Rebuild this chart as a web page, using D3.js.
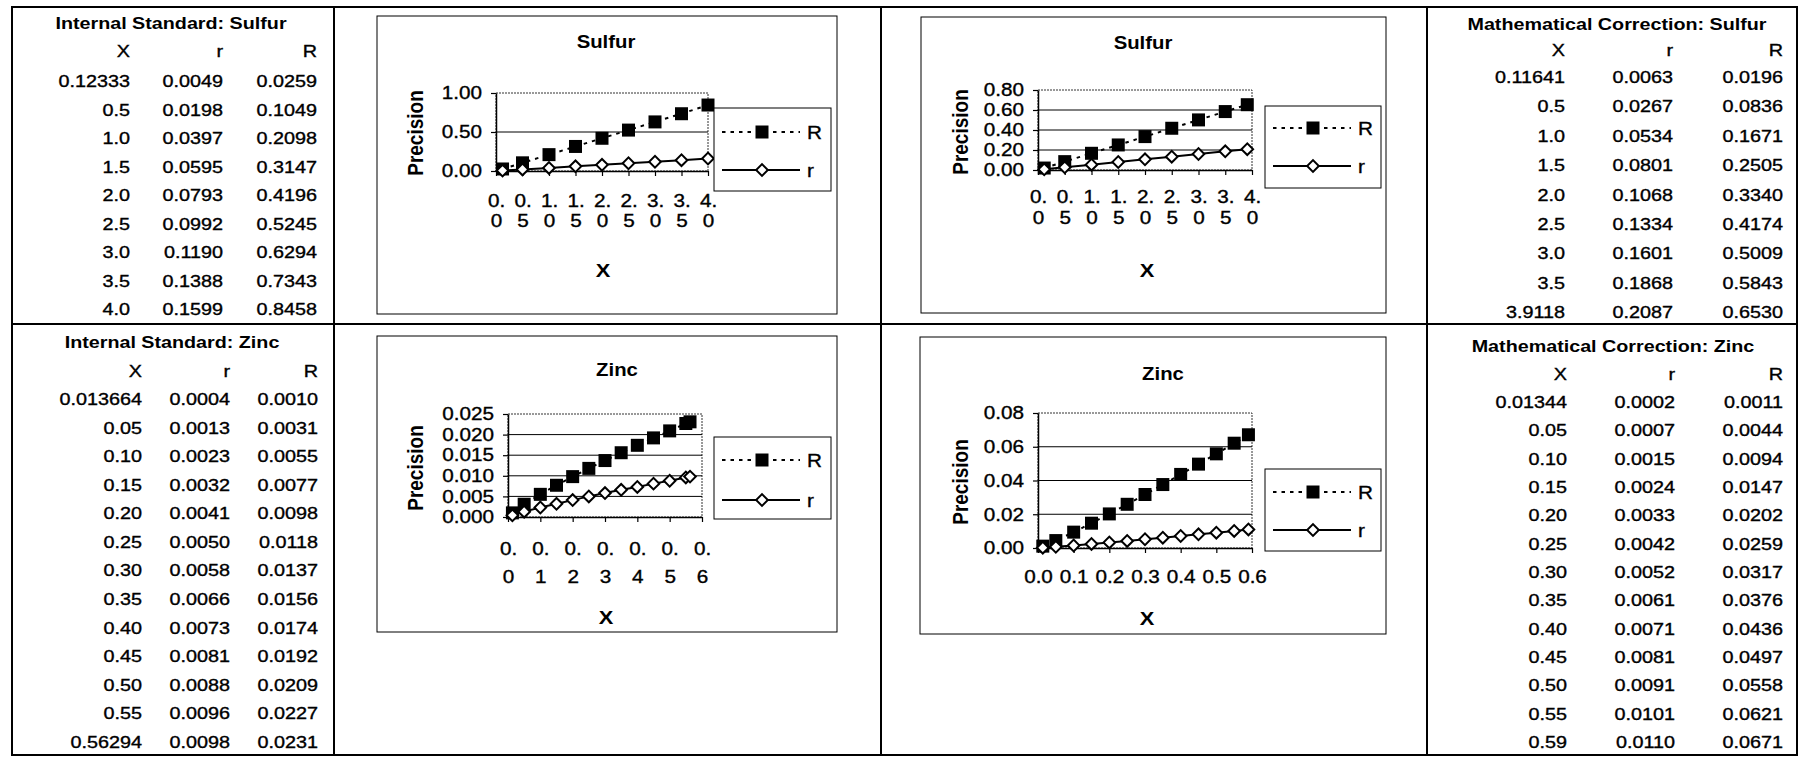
<!DOCTYPE html>
<html>
<head>
<meta charset="utf-8">
<script src="https://cdn.jsdelivr.net/npm/d3@7"></script>
<style>
  body { margin: 0; background: #fff; }
  svg { font-family: "Liberation Sans", Arial, sans-serif; }
</style>
</head>
<body>
<div id="chart"></div>
<script>
// ---- data ----
const isSulfurX = ["0.12333", "0.5", "1.0", "1.5", "2.0", "2.5", "3.0", "3.5", "4.0"];
const isSulfur_r = [0.0049, 0.0198, 0.0397, 0.0595, 0.0793, 0.0992, 0.119, 0.1388, 0.1599];
const isSulfur_R = [0.0259, 0.1049, 0.2098, 0.3147, 0.4196, 0.5245, 0.6294, 0.7343, 0.8458];

const mcSulfurX = ["0.11641", "0.5", "1.0", "1.5", "2.0", "2.5", "3.0", "3.5", "3.9118"];
const mcSulfur_r = [0.0063, 0.0267, 0.0534, 0.0801, 0.1068, 0.1334, 0.1601, 0.1868, 0.2087];
const mcSulfur_R = [0.0196, 0.0836, 0.1671, 0.2505, 0.334, 0.4174, 0.5009, 0.5843, 0.653];

const isZincX = ["0.013664", "0.05", "0.10", "0.15", "0.20", "0.25", "0.30", "0.35", "0.40", "0.45", "0.50", "0.55", "0.56294"];
const isZinc_r = [0.0004, 0.0013, 0.0023, 0.0032, 0.0041, 0.005, 0.0058, 0.0066, 0.0073, 0.0081, 0.0088, 0.0096, 0.0098];
const isZinc_R = [0.001, 0.0031, 0.0055, 0.0077, 0.0098, 0.0118, 0.0137, 0.0156, 0.0174, 0.0192, 0.0209, 0.0227, 0.0231];

const mcZincX = ["0.01344", "0.05", "0.10", "0.15", "0.20", "0.25", "0.30", "0.35", "0.40", "0.45", "0.50", "0.55", "0.59"];
const mcZinc_r = [0.0002, 0.0007, 0.0015, 0.0024, 0.0033, 0.0042, 0.0052, 0.0061, 0.0071, 0.0081, 0.0091, 0.0101, 0.011];
const mcZinc_R = [0.0011, 0.0044, 0.0094, 0.0147, 0.0202, 0.0259, 0.0317, 0.0376, 0.0436, 0.0497, 0.0558, 0.0621, 0.0671];

// axis ticks
const sulfurXTicks = [0, 0.5, 1, 1.5, 2, 2.5, 3, 3.5, 4];
const zincXTicks = [0, 0.1, 0.2, 0.3, 0.4, 0.5, 0.6];
const isSulfurYTicks = [0, 0.5, 1];
const mcSulfurYTicks = [0, 0.2, 0.4, 0.6, 0.8];
const isZincYTicks = [0, 0.005, 0.01, 0.015, 0.02, 0.025];
const mcZincYTicks = [0, 0.02, 0.04, 0.06, 0.08];

const W = 1808, H = 757;
const SX = 1.15; // the scan is a bit wide, so text gets stretched sideways
const INK = 0.35; // scanned text looks heavier than clean vector text

const svg = d3
  .select("#chart")
  .append("svg")
  .attr("width", W)
  .attr("height", H);

svg.append("rect").attr("width", W).attr("height", H).attr("fill", "#fff");

const label = (g, x, y, str, o = {}) =>
  g
    .append("text")
    .attr(
      "transform",
      `translate(${x},${y}) scale(${o.sx || SX},1)` + (o.rot ? " rotate(-90)" : "")
    )
    .attr("text-anchor", o.anchor || "middle")
    .attr("dominant-baseline", o.rot ? "central" : null)
    .attr("font-size", o.size || 18)
    .attr("font-weight", o.bold ? "bold" : null)
    .attr("stroke", o.bold ? null : "#000")
    .attr("stroke-width", o.bold ? null : INK)
    .text(str);

// ---- sheet grid ----
const grid = svg.append("g").attr("stroke", "#000").attr("stroke-width", 2).attr("fill", "none");
grid.append("rect").attr("x", 12).attr("y", 7).attr("width", 1797 - 12).attr("height", 755 - 7);
[334, 881, 1427].forEach((x) =>
  grid.append("line").attr("x1", x).attr("x2", x).attr("y1", 7).attr("y2", 755)
);
grid.append("line").attr("x1", 12).attr("x2", 1797).attr("y1", 324).attr("y2", 324);

// ---- tables ----
const fmt4 = d3.format(".4f");
const tables = [
  { title: "Internal Standard: Sulfur", x: isSulfurX, r: isSulfur_r, R: isSulfur_R,
    titleX: 171, titleY: 29, headY: 57, rowY: 87, step: 28.5, cols: [130, 223, 317] },
  { title: "Internal Standard: Zinc", x: isZincX, r: isZinc_r, R: isZinc_R,
    titleX: 172, titleY: 348, headY: 377, rowY: 405, step: 28.58, cols: [142, 230, 318] },
  { title: "Mathematical Correction: Sulfur", x: mcSulfurX, r: mcSulfur_r, R: mcSulfur_R,
    titleX: 1617, titleY: 30, headY: 56, rowY: 83, step: 29.4, cols: [1565, 1673, 1783] },
  { title: "Mathematical Correction: Zinc", x: mcZincX, r: mcZinc_r, R: mcZinc_R,
    titleX: 1613, titleY: 352, headY: 380, rowY: 408, step: 28.33, cols: [1567, 1675, 1783] }
];

const cell = { anchor: "end", size: 16.5, sx: 1.2 };
tables.forEach((t) => {
  const g = svg.append("g");
  label(g, t.titleX, t.titleY, t.title, { bold: true, size: 17, sx: 1.16 });
  ["X", "r", "R"].forEach((h, i) => label(g, t.cols[i], t.headY, h, cell));
  t.x.forEach((xs, i) => {
    const y = t.rowY + i * t.step;
    label(g, t.cols[0], y, xs, cell);
    label(g, t.cols[1], y, fmt4(t.r[i]), cell);
    label(g, t.cols[2], y, fmt4(t.R[i]), cell);
  });
});

// ---- charts ----
const charts = [
  { title: "Sulfur", x: isSulfurX.map(Number), r: isSulfur_r, R: isSulfur_R,
    xTicks: sulfurXTicks, yTicks: isSulfurYTicks, yFmt: ".2f", wrap: true,
    frame: [377, 16, 837, 314], plot: [496, 708, 93, 171],
    titleXY: [606, 48], precXY: [415, 133], xLabelXY: [603, 277], tickBase: [36, 56],
    legend: [714, 108, 831, 191], legRows: [132, 170] },
  { title: "Sulfur", x: mcSulfurX.map(Number), r: mcSulfur_r, R: mcSulfur_R,
    xTicks: sulfurXTicks, yTicks: mcSulfurYTicks, yFmt: ".2f", wrap: true,
    frame: [921, 17, 1386, 313], plot: [1038, 1252, 90, 170],
    titleXY: [1143, 49], precXY: [960, 132], xLabelXY: [1147, 277], tickBase: [33, 54],
    legend: [1265, 106, 1381, 188], legRows: [128, 166] },
  { title: "Zinc", x: isZincX.map(Number), r: isZinc_r, R: isZinc_R,
    xTicks: zincXTicks, yTicks: isZincYTicks, yFmt: ".3f", wrap: true,
    frame: [377, 336, 837, 632], plot: [508, 702, 414, 517],
    titleXY: [617, 376], precXY: [415, 468], xLabelXY: [606, 624], tickBase: [38, 66],
    legend: [714, 437, 831, 519], legRows: [460, 500] },
  { title: "Zinc", x: mcZincX.map(Number), r: mcZinc_r, R: mcZinc_R,
    xTicks: zincXTicks, yTicks: mcZincYTicks, yFmt: ".2f", wrap: false,
    frame: [920, 337, 1386, 634], plot: [1038, 1252, 413, 548],
    titleXY: [1163, 380], precXY: [960, 482], xLabelXY: [1147, 625], tickBase: [35],
    legend: [1265, 469, 1381, 551], legRows: [492, 530] }
];

const DASH = "3.5,5";
const square = d3.symbol(d3.symbolSquare, 169);
const diamond = d3.symbol(d3.symbolSquare, 68);

const drawSquare = (g, x, y) =>
  g.append("path").attr("d", square()).attr("transform", `translate(${x},${y})`).attr("fill", "#000");
const drawDiamond = (g, x, y) =>
  g
    .append("path")
    .attr("d", diamond())
    .attr("transform", `translate(${x},${y}) rotate(45)`)
    .attr("fill", "#fff")
    .attr("stroke", "#000")
    .attr("stroke-width", 2);

charts.forEach((c) => {
  const g = svg.append("g");
  const [fx0, fy0, fx1, fy1] = c.frame;
  const [px0, px1, py0, py1] = c.plot;

  g.append("rect")
    .attr("x", fx0).attr("y", fy0)
    .attr("width", fx1 - fx0).attr("height", fy1 - fy0)
    .attr("fill", "#fff").attr("stroke", "#000").attr("stroke-width", 1);

  const x = d3.scaleLinear().domain([c.xTicks[0], c.xTicks[c.xTicks.length - 1]]).range([px0, px1]);
  const y = d3.scaleLinear().domain([0, c.yTicks[c.yTicks.length - 1]]).range([py1, py0]);

  // plot area border + gridlines
  g.append("rect")
    .attr("x", px0).attr("y", py0)
    .attr("width", px1 - px0).attr("height", py1 - py0)
    .attr("fill", "none").attr("stroke", "#333").attr("stroke-width", 1)
    .attr("stroke-dasharray", "2,1");
  g.selectAll(".gridline")
    .data(c.yTicks.slice(1, -1))
    .join("line")
    .attr("x1", px0).attr("x2", px1)
    .attr("y1", (d) => y(d)).attr("y2", (d) => y(d))
    .attr("stroke", "#000").attr("stroke-width", 1);

  // y axis
  const ya = g
    .append("g")
    .attr("transform", `translate(${px0},0)`)
    .call(d3.axisLeft(y).tickValues(c.yTicks).tickFormat(d3.format(c.yFmt)).tickSize(5).tickSizeOuter(0))
    .attr("font-family", null)
    .attr("font-size", 18);
  ya.select(".domain").attr("stroke-width", 1.5);
  ya.selectAll(".tick line").attr("stroke-width", 1.2);
  ya.selectAll(".tick text")
    .attr("x", -14 / SX)
    .attr("transform", `scale(${SX},1)`)
    .attr("stroke", "#000").attr("stroke-width", INK);

  // x axis, labels wrapped like the sheet does
  const xa = g
    .append("g")
    .attr("transform", `translate(0,${py1})`)
    .call(d3.axisBottom(x).tickValues(c.xTicks).tickFormat(d3.format(".1f")).tickSize(5).tickSizeOuter(0))
    .attr("font-family", null)
    .attr("font-size", 18);
  xa.select(".domain").attr("stroke-width", 1.5);
  xa.selectAll(".tick line").attr("stroke-width", 1.2);
  xa.selectAll(".tick text").each(function (d) {
    const s = d3.format(".1f")(d);
    const t = d3.select(this).text(null).attr("dy", null).attr("y", null)
      .attr("transform", `scale(${SX},1)`)
      .attr("stroke", "#000").attr("stroke-width", INK);
    const lines = c.wrap ? [s.slice(0, 2), s.slice(2)] : [s];
    lines.forEach((ln, i) =>
      t.append("tspan").attr("x", 0).attr("y", c.tickBase[i]).text(ln)
    );
  });

  // series
  const pts = (vals) => c.x.map((xv, i) => [xv, vals[i]]);
  const line = d3.line().x((d) => x(d[0])).y((d) => y(d[1]));

  g.append("path").attr("d", line(pts(c.r)))
    .attr("fill", "none").attr("stroke", "#000").attr("stroke-width", 2);
  g.append("path").attr("d", line(pts(c.R)))
    .attr("fill", "none").attr("stroke", "#000").attr("stroke-width", 2)
    .attr("stroke-dasharray", DASH);

  pts(c.R).forEach((d) => drawSquare(g, x(d[0]), y(d[1])));
  pts(c.r).forEach((d) => drawDiamond(g, x(d[0]), y(d[1])));

  // texts
  label(g, c.titleXY[0], c.titleXY[1], c.title, { bold: true, size: 18, sx: 1.13 });
  label(g, c.precXY[0], c.precXY[1], "Precision", { bold: true, size: 19, rot: true });
  label(g, c.xLabelXY[0], c.xLabelXY[1], "X", { bold: true, size: 19 });

  // legend
  const [lx0, ly0, lx1, ly1] = c.legend;
  g.append("rect")
    .attr("x", lx0).attr("y", ly0)
    .attr("width", lx1 - lx0).attr("height", ly1 - ly0)
    .attr("fill", "#fff").attr("stroke", "#000").attr("stroke-width", 1);
  const legItems = [
    { name: "R", dash: DASH, mark: drawSquare },
    { name: "r", dash: null, mark: drawDiamond }
  ];
  legItems.forEach((it, i) => {
    const ly = c.legRows[i];
    g.append("line")
      .attr("x1", lx0 + 8).attr("x2", lx0 + 86)
      .attr("y1", ly).attr("y2", ly)
      .attr("stroke", "#000").attr("stroke-width", 2)
      .attr("stroke-dasharray", it.dash);
    it.mark(g, lx0 + 48, ly);
    label(g, lx0 + 93, ly + 6.5, it.name, { anchor: "start", size: 18 });
  });
});
</script>
</body>
</html>
